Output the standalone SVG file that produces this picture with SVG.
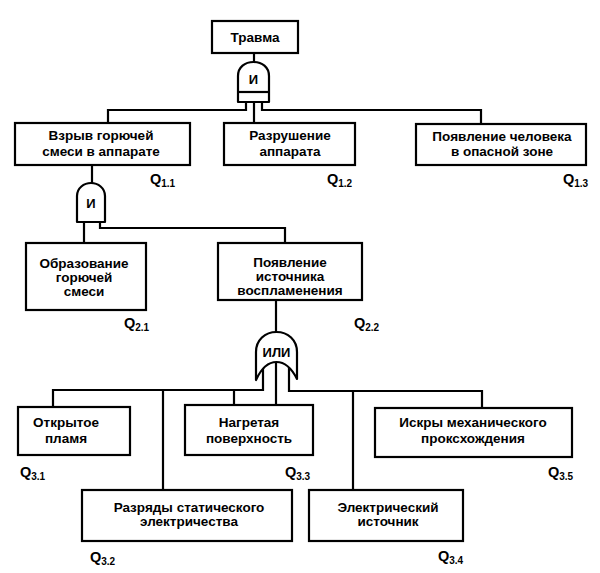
<svg xmlns="http://www.w3.org/2000/svg" width="600" height="573" viewBox="0 0 600 573">
<style>
.box{fill:#fff;stroke:#000;stroke-width:2.2}
.gate{fill:#fff;stroke:#000;stroke-width:2.2;stroke-linejoin:round}
.ln{fill:none;stroke:#000;stroke-width:2.2}
text{font-family:"Liberation Sans",Arial,sans-serif;font-weight:bold;fill:#000}
.t{font-size:13.5px;text-anchor:middle}
.g{font-size:13px;text-anchor:middle}
.q{font-size:14.5px}
.s{font-size:10px}
</style>
<rect width="600" height="573" fill="#fff"/>
<g id="connectors" class="ln">
<path d="M254,53 V62"/>
<path d="M246,102 V110 H108 V123"/>
<path d="M262,102 V110 H481 V124"/>
<path d="M254,102 V123"/>
<path d="M92,165 V183"/>
<path d="M84,222 V243"/>
<path d="M100,222 V228 H285 V243"/>
<path d="M276,300 V332"/>
<path d="M263,366 V390 H53 V407"/>
<path d="M163,390 V490"/>
<path d="M234,390 V405"/>
<path d="M276,362 V405"/>
<path d="M289,366 V391 H482 V408"/>
<path d="M353,391 V490"/>
</g>
<g id="top">
<rect class="box" x="212" y="21" width="86" height="32"/>
<text class="t" x="255" y="42">Травма</text>
</g>
<g id="and1">
<path class="gate" d="M238,102 V76 C238,67 245,62 253.5,62 C262,62 269,67 269,76 V102 Z"/>
<path class="ln" d="M238,92 H269"/>
<text class="g" x="253.5" y="84">И</text>
</g>
<g id="e11">
<rect class="box" x="15" y="123" width="175" height="42"/>
<text class="t" x="101" y="140">Взрыв горючей</text>
<text class="t" x="101" y="156">смеси в аппарате</text>
<text class="q" x="150" y="184">Q<tspan class="s" dy="3">1.1</tspan></text>
</g>
<g id="e12">
<rect class="box" x="224" y="123" width="131" height="42"/>
<text class="t" x="290" y="140">Разрушение</text>
<text class="t" x="290" y="156">аппарата</text>
<text class="q" x="327" y="184">Q<tspan class="s" dy="3">1.2</tspan></text>
</g>
<g id="e13">
<rect class="box" x="416" y="124" width="170" height="41"/>
<text class="t" x="502" y="141">Появление человека</text>
<text class="t" x="502" y="156">в опасной зоне</text>
<text class="q" x="563" y="184">Q<tspan class="s" dy="3">1.3</tspan></text>
</g>
<g id="and2">
<path class="gate" d="M77,222 V196 C77,188 84,183 91,183 C98,183 105,188 105,196 V222 Z"/>
<text class="g" x="91" y="208">И</text>
</g>
<g id="e21">
<rect class="box" x="26" y="243" width="120" height="67"/>
<text class="t" x="84" y="268">Образование</text>
<text class="t" x="84" y="282">горючей</text>
<text class="t" x="84" y="296">смеси</text>
<text class="q" x="124" y="328">Q<tspan class="s" dy="3">2.1</tspan></text>
</g>
<g id="e22">
<rect class="box" x="218" y="243" width="144" height="57"/>
<text class="t" x="290" y="267">Появление</text>
<text class="t" x="290" y="281">источника</text>
<text class="t" x="290" y="295">воспламенения</text>
<text class="q" x="354" y="328">Q<tspan class="s" dy="3">2.2</tspan></text>
</g>
<g id="or1">
<path class="gate" d="M256,380 V352 C256,340 265,332 276.5,332 C288,332 297,340 297,352 V379 C292,369 285,362 276.5,362 C268,362 261,369 256,380 Z"/>
<text class="g" x="276.5" y="357">ИЛИ</text>
</g>
<g id="e31">
<rect class="box" x="18" y="407" width="112" height="48"/>
<text class="t" x="66" y="427">Открытое</text>
<text class="t" x="66" y="443">пламя</text>
<text class="q" x="20" y="477">Q<tspan class="s" dy="3">3.1</tspan></text>
</g>
<g id="e33">
<rect class="box" x="185" y="405" width="128" height="50"/>
<text class="t" x="249" y="427">Нагретая</text>
<text class="t" x="249" y="443">поверхность</text>
<text class="q" x="285" y="477">Q<tspan class="s" dy="3">3.3</tspan></text>
</g>
<g id="e35">
<rect class="box" x="375" y="408" width="197" height="49"/>
<text class="t" x="473" y="427">Искры механического</text>
<text class="t" x="473" y="443">проксхождения</text>
<text class="q" x="548" y="477">Q<tspan class="s" dy="3">3.5</tspan></text>
</g>
<g id="e32">
<rect class="box" x="82" y="490" width="210" height="51"/>
<text class="t" x="189" y="512">Разряды статического</text>
<text class="t" x="189" y="526">электричества</text>
<text class="q" x="90" y="562">Q<tspan class="s" dy="3">3.2</tspan></text>
</g>
<g id="e34">
<rect class="box" x="309" y="490" width="154" height="51"/>
<text class="t" x="388" y="512">Электрический</text>
<text class="t" x="388" y="526">источник</text>
<text class="q" x="438" y="561">Q<tspan class="s" dy="3">3.4</tspan></text>
</g>
</svg>
